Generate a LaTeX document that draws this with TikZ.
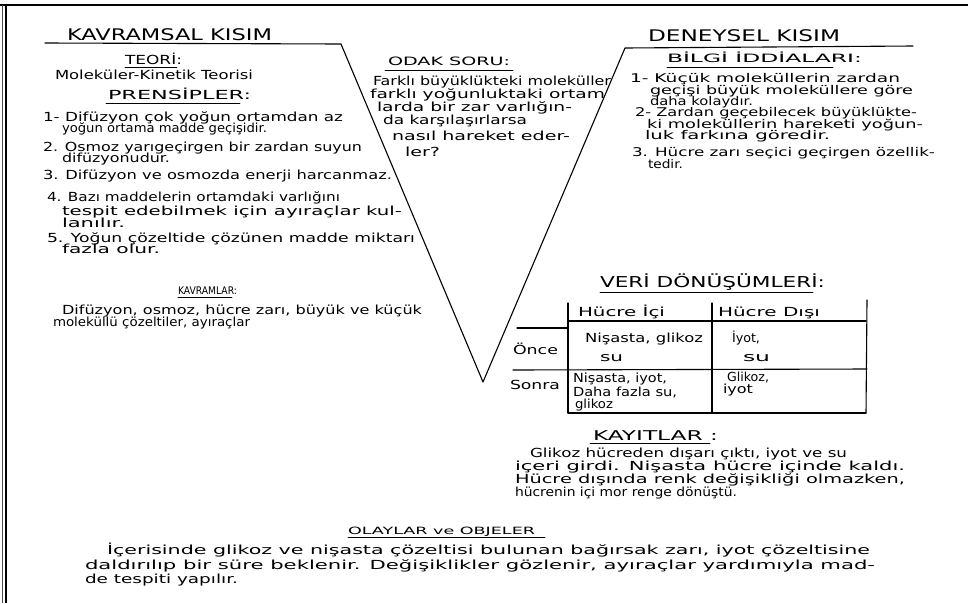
\documentclass[tikz,border=0pt]{standalone}
\usepackage{fontspec}
\setmainfont{DejaVu Sans}
% #1 name, #2 x, #3 y (baseline), #4 target width, #5 font size, #6 text
\newcommand{\txl}[6]{%
  \node[capstext=#5] (#1m) at (0,0) {\phantom{#6}};
  \pgfpointdiff{\pgfpointanchor{#1m}{west}}{\pgfpointanchor{#1m}{east}}%
  \pgfgetlastxy{\fitmx}{\fitmy}%
  \pgfmathsetmacro{\fitsx}{#4/\fitmx}%
  \begin{scope}[shift={(#2,#3)}]
    \node[capstext=#5, xscale=\fitsx, transform shape] (#1) at (0,0) {#6};
  \end{scope}}
\tikzset{
  capstext/.style={anchor=base west, inner sep=0pt, outer sep=0pt, font=\fontsize{#1}{#1}\selectfont},
  ink/.style={line width=1.1pt, black, line cap=round, line join=round},
  uline/.style={line width=0.8pt, black, line cap=round},
  frameline/.style={line width=1.6pt, black},
}
\begin{document}
\begin{tikzpicture}[x=1pt,y=-1pt]
\path[use as bounding box, fill=white] (0,0) rectangle (968,603);
% frame
\coordinate (f0) at (0,5); \coordinate (f1) at (968,5);
\coordinate (f2) at (6,5); \coordinate (f3) at (6,603);
\coordinate (f4) at (2,5); \coordinate (f5) at (2,603);
\draw[frameline] (f0) -- (f1);
\draw[frameline] (f2) -- (f3);
\draw[line width=0.7pt, black!70] (f4) -- (f5);
% V shape
\coordinate (vA) at (45,43);
\coordinate (vB) at (341,44);
\coordinate (vC) at (483,382);
\coordinate (vD) at (625,48);
\coordinate (vE) at (913,46);
\draw[ink] (vA) -- (vB) -- (vC) -- (vD) -- (vE);

% ---------- KAVRAMSAL KISIM ----------
\txl{kk}{67}{40}{205}{16}{KAVRAMSAL KISIM}
\txl{teo}{125}{64}{57}{12.5}{TEORİ:}
\coordinate (teoa) at (125,67); \coordinate (teob) at (177,67);
\draw[uline] (teoa) -- (teob);
\txl{mkt}{55}{79}{198}{12.5}{Moleküler-Kinetik Teorisi}
\txl{pre}{108}{99}{143}{12.5}{PRENSİPLER:}
\coordinate (prea) at (106,103); \coordinate (preb) at (240,103);
\draw[uline] (prea) -- (preb);

\txl{p1a}{43}{121}{300}{12.5}{1- Difüzyon çok yoğun ortamdan az}
\txl{p1b}{62}{132}{205}{12.5}{yoğun ortama madde geçişidir.}
\txl{p2a}{43}{151}{319}{12.5}{2. Osmoz yarıgeçirgen bir zardan suyun}
\txl{p2b}{62}{162}{108}{12.5}{difüzyonudur.}
\txl{p3a}{43}{179}{349}{12.5}{3. Difüzyon ve osmozda enerji harcanmaz.}
\txl{p4a}{47}{201}{293}{12.5}{4. Bazı maddelerin ortamdaki varlığını}
\txl{p4b}{62}{215}{340}{12.5}{tespit edebilmek için ayıraçlar kul-}
\txl{p4c}{62}{227}{63}{12.5}{lanılır.}
\txl{p5a}{47}{242}{368}{12.5}{5. Yoğun çözeltide çözünen madde miktarı}
\txl{p5b}{62}{253}{98}{12.5}{fazla olur.}

\txl{kav}{178}{294}{59}{10.5}{KAVRAMLAR:}
\coordinate (kava) at (178,297); \coordinate (kavb) at (232,297);
\draw[uline] (kava) -- (kavb);
\txl{k1}{62}{314}{360}{12.5}{Difüzyon, osmoz, hücre zarı, büyük ve küçük}
\txl{k2}{53}{326}{197}{12.5}{moleküllü çözeltiler, ayıraçlar}

% ---------- ODAK SORU ----------
\txl{ods}{388}{65}{122}{11.5}{ODAK SORU:}
\coordinate (odsa) at (385,70); \coordinate (odsb) at (513,70);
\draw[uline] (odsa) -- (odsb);
\txl{o1}{373}{85}{238}{12.5}{Farklı büyüklükteki moleküller}
\txl{o2}{370}{98}{235}{12.5}{farklı yoğunluktaki ortam}
\txl{o3}{377}{111}{195}{12.5}{larda bir zar varlığın-}
\txl{o4}{383}{124}{144}{12.5}{da karşılaşırlarsa}
\txl{o5}{392}{140}{178}{12.5}{nasıl hareket eder-}
\txl{o6}{405}{156}{35}{12.5}{ler?}

% ---------- DENEYSEL KISIM ----------
\txl{dk}{648}{41}{192}{16}{DENEYSEL KISIM}
\txl{bil}{667}{62}{195}{11.5}{BİLGİ İDDİALARI:}
\coordinate (bila) at (667,67); \coordinate (bilb) at (833,67);
\draw[uline] (bila) -- (bilb);
\txl{b1a}{630}{82}{270}{12}{1- Küçük moleküllerin zardan}
\txl{b1b}{650}{94}{263}{12}{geçişi büyük moleküllere göre}
\txl{b1c}{650}{105}{103}{12}{daha kolaydır.}
\txl{b2a}{635}{116}{282}{12}{2- Zardan geçebilecek büyüklükte-}
\txl{b2b}{647}{128}{276}{12}{ki moleküllerin hareketi yoğun-}
\txl{b2c}{645}{139}{185}{12}{luk farkına göredir.}
\txl{b3a}{632}{156}{303}{12}{3. Hücre zarı seçici geçirgen özellik-}
\txl{b3b}{648}{168}{35}{12}{tedir.}

% ---------- VERI DONUSUMLERI ----------
\txl{veri}{600}{287}{225}{15}{VERİ DÖNÜŞÜMLERİ:}
\coordinate (veria) at (600,292); \coordinate (verib) at (813,292);
\draw[uline] (veria) -- (verib);
% table
\coordinate (t1a) at (568,303); \coordinate (t1b) at (568,413);
\coordinate (t2a) at (712,303); \coordinate (t2b) at (712,413);
\coordinate (t3a) at (867,300); \coordinate (t3b) at (866,413);
\coordinate (h1a) at (568,321); \coordinate (h1b) at (866,321);
\coordinate (h2a) at (517,328); \coordinate (h2b) at (568,328);
\coordinate (r1a) at (513,370); \coordinate (r1b) at (867,369);
\draw[ink] (t1a) -- (t1b);
\draw[ink] (t2a) -- (t2b);
\draw[ink] (t3a) -- (t3b);
\draw[ink] (h1a) -- (h1b);
\draw[ink] (h2a) -- (h2b);
\draw[ink] (r1a) -- (r1b);
\draw[ink] (t1b) -- (t3b);
\txl{hi}{578}{316}{87}{12.5}{Hücre İçi}
\txl{hd}{718}{316}{102}{12.5}{Hücre Dışı}
\txl{c1}{585}{342}{118}{12.5}{Nişasta, glikoz}
\txl{c2}{600}{361}{23}{12.5}{su}
\txl{c3}{732}{342}{28}{12.5}{İyot,}
\txl{c4}{743}{361}{27}{12.5}{su}
\txl{once}{513}{354}{45}{12.5}{Önce}
\txl{sonra}{510}{389}{50}{12.5}{Sonra}
\txl{c5}{573}{382}{94}{12.5}{Nişasta, iyot,}
\txl{c6}{573}{396}{104}{12.5}{Daha fazla su,}
\txl{c7}{575}{408}{38}{12.5}{glikoz}
\txl{c8}{727}{381}{42}{12.5}{Glikoz,}
\txl{c9}{723}{393}{30}{12.5}{iyot}

% ---------- KAYITLAR ----------
\txl{kay}{593}{440}{125}{13.5}{KAYITLAR :}
\coordinate (kaya) at (590,443); \coordinate (kayb) at (710,443);
\draw[uline] (kaya) -- (kayb);
\txl{y1}{530}{457}{317}{12.5}{Glikoz hücreden dışarı çıktı, iyot ve su}
\txl{y2}{515}{470}{390}{12.5}{içeri girdi. Nişasta hücre içinde kaldı.}
\txl{y3}{515}{483}{390}{12.5}{Hücre dışında renk değişikliği olmazken,}
\txl{y4}{515}{496}{222}{12.5}{hücrenin içi mor renge dönüştü.}

% ---------- OLAYLAR ve OBJELER ----------
\txl{ola}{348}{534}{187}{10}{OLAYLAR ve OBJELER}
\coordinate (olaa) at (348,537); \coordinate (olab) at (545,537);
\draw[uline] (olaa) -- (olab);
\txl{e1}{107}{554}{763}{12.5}{İçerisinde glikoz ve nişasta çözeltisi bulunan bağırsak zarı, iyot çözeltisine}
\txl{e2}{85}{569}{790}{12.5}{daldırılıp bir süre beklenir. Değişiklikler gözlenir, ayıraçlar yardımıyla mad-}
\txl{e3}{85}{583}{153}{12.5}{de tespiti yapılır.}
\end{tikzpicture}
\end{document}
